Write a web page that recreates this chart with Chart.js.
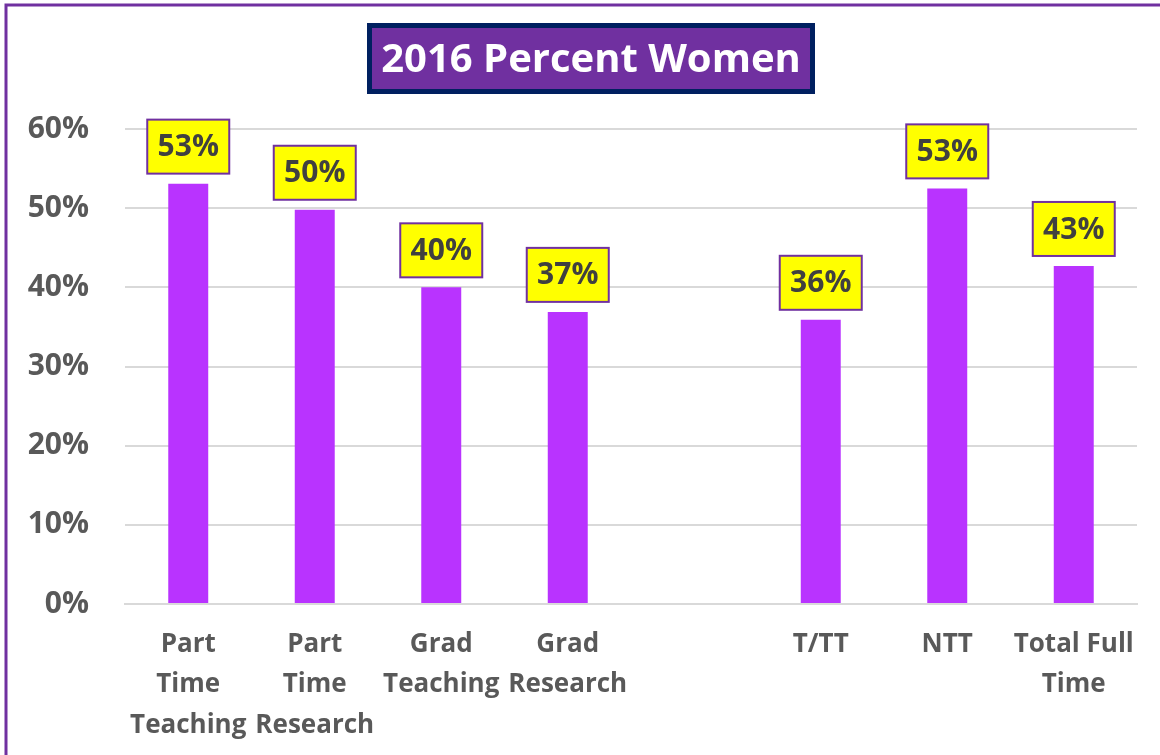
<!DOCTYPE html>
<html>
<head>
<meta charset="utf-8">
<script src="https://cdn.jsdelivr.net/npm/chart.js@4/dist/chart.umd.min.js"></script>
<style>
  html, body { margin: 0; padding: 0; background: #fff; }
  #wrap { width: 1160px; height: 755px; position: relative; }
</style>
</head>
<body>
<div id="wrap"><canvas id="grafica"></canvas></div>
<script>
// Datos del gráfico
const titulo = '2016 Percent Women';
const categorias = [
  ['Part', 'Time', 'Teaching'],
  ['Part', 'Time', 'Research'],
  ['Grad', 'Teaching'],
  ['Grad', 'Research'],
  '',
  'T/TT',
  'NTT',
  ['Total Full', 'Time']
];
const porcentajes = [53.1, 49.8, 40.0, 36.9, null, 35.9, 52.5, 42.7];
const ticksY = [0, 10, 20, 30, 40, 50, 60];

const FUENTE = '"Open Sans", "Noto Sans", sans-serif';

// Marco, título y etiquetas amarillas
const decoracion = {
  id: 'decoracion',
  beforeDraw(chart) {
    const c = chart.ctx;
    c.save();
    c.fillStyle = '#ffffff';
    c.fillRect(0, 0, chart.width, chart.height);
    c.strokeStyle = '#7030a0';
    c.lineWidth = 3;
    c.beginPath();
    c.moveTo(6, chart.height + 5);
    c.lineTo(6, 5);
    c.lineTo(chart.width + 5, 5);
    c.stroke();
    c.restore();
  },
  afterDraw(chart) {
    const c = chart.ctx;
    c.save();
    // caja del título
    c.fillStyle = '#002060';
    c.fillRect(367, 23, 448, 71);
    c.fillStyle = '#7030a0';
    c.fillRect(372, 28, 438, 61);
    c.fillStyle = '#ffffff';
    c.font = 'bold 40px ' + FUENTE;
    c.textAlign = 'center';
    c.textBaseline = 'middle';
    c.fillText(titulo, 591, 61);

    // etiquetas de datos
    const meta = chart.getDatasetMeta(0);
    c.font = 'bold 30px ' + FUENTE;
    meta.data.forEach(function (bar, i) {
      const v = porcentajes[i];
      if (v === null) return;
      const w = 82, h = 54;
      const x = bar.x - w / 2;
      const y = bar.y - 10 - h;
      c.fillStyle = '#ffff00';
      c.fillRect(x, y, w, h);
      c.strokeStyle = '#7030a0';
      c.lineWidth = 2;
      c.strokeRect(x, y, w, h);
      c.fillStyle = '#404040';
      c.fillText(Math.round(v) + '%', bar.x, y + h / 2 + 1);
    });
    c.restore();
  }
};

const config = {
  type: 'bar',
  data: {
    labels: categorias,
    datasets: [{
      data: porcentajes,
      backgroundColor: '#b933ff',
      barPercentage: 1,
      categoryPercentage: 0.316
    }]
  },
  plugins: [decoracion],
  options: {
    responsive: false,
    animation: false,
    layout: { padding: { top: 129, left: 10, right: 23, bottom: 0 } },
    plugins: {
      legend: { display: false },
      tooltip: { enabled: false }
    },
    scales: {
      x: {
        grid: { display: false, drawTicks: false },
        border: { color: '#d9d9d9', width: 2 },
        ticks: {
          color: '#595959',
          font: { family: FUENTE, size: 26, weight: 'bold', lineHeight: 1.54 },
          padding: 21,
          maxRotation: 0,
          autoSkip: false
        },
        afterFit(scale) { scale.height = 151; }
      },
      y: {
        min: 0,
        max: 60,
        afterBuildTicks(scale) { scale.ticks = ticksY.map(v => ({ value: v })); },
        grid: { color: '#d9d9d9', lineWidth: 2, drawTicks: false },
        border: { display: false },
        ticks: {
          color: '#595959',
          font: { family: FUENTE, size: 30, weight: 'bold' },
          padding: 36,
          callback: v => v + '%'
        },
        afterFit(scale) { scale.width = 115; }
      }
    }
  }
};

const canvas = document.getElementById('grafica');
canvas.width = 1160;
canvas.height = 755;
const grafica = new Chart(canvas, config);
</script>
</body>
</html>
